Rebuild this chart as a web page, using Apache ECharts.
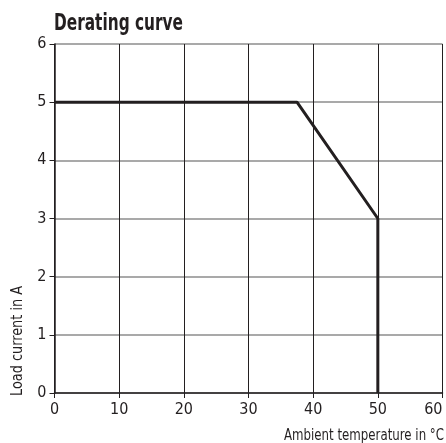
<!DOCTYPE html>
<html><head><meta charset="utf-8">
<script src="https://cdn.jsdelivr.net/npm/echarts@6/dist/echarts.min.js"></script>
<style>html,body{margin:0;padding:0;background:#fff;overflow:hidden}#c{width:446px;height:443px}</style>
</head><body><div id="c"></div>
<script>
const titleText = "Derating curve";
const xName = "Ambient temperature in °C";
const yName = "Load current in A";
const temperature = [0, 37.5, 50, 50];
const current = [5, 5, 3, 0];
const xTicks = [0, 10, 20, 30, 40, 50, 60];
const yTicks = [0, 1, 2, 3, 4, 5, 6];

const FONT = "'Liberation Sans Narrow', 'DejaVu Sans Condensed', sans-serif";
const ctx = document.createElement('canvas').getContext('2d');
function fitScale(text, font, target) { ctx.font = font; return target / ctx.measureText(text).width; }
const titleFont = 'bold 23px ' + FONT;
const nameFont = '16px ' + FONT;
const yNameFont = '15px ' + FONT;

const chart = echarts.init(document.getElementById('c'), null, {renderer: 'canvas'});
chart.setOption({
  animation: false,
  grid: {left: 54.5, right: 3.5, top: 44, bottom: 50, containLabel: false, outerBoundsMode: 'none'},
  xAxis: {type: 'value', min: xTicks[0], max: xTicks[xTicks.length-1], interval: 10,
    axisLine: {show: true, lineStyle: {color: '#231f20', width: 1.5}},
    axisTick: {show: true, length: 5, lineStyle: {color: '#231f20'}},
    axisLabel: {fontFamily: FONT, fontSize: 16, color: '#231f20', margin: 9, alignMaxLabel: 'right'},
    splitLine: {show: true, lineStyle: {color: '#231f20', width: 1}}},
  yAxis: {type: 'value', min: yTicks[0], max: yTicks[yTicks.length-1], interval: 1,
    axisLine: {show: true, lineStyle: {color: '#231f20', width: 1.5}},
    axisTick: {show: true, length: 5, lineStyle: {color: '#231f20'}},
    axisLabel: {fontFamily: FONT, fontSize: 16, color: '#231f20', margin: 8},
    splitLine: {show: true, lineStyle: {color: '#8c8c8c', width: 1.5}}},
  graphic: [
    {type: 'text', x: 54, y: 13, scaleX: fitScale(titleText, titleFont, 129),
      style: {text: titleText, font: titleFont, fill: '#231f20', textAlign: 'left', textVerticalAlign: 'top'}},
    {type: 'text', x: 444, y: 428, scaleX: fitScale(xName, nameFont, 160),
      style: {text: xName, font: nameFont, fill: '#231f20', textAlign: 'right', textVerticalAlign: 'top'}},
    {type: 'text', x: 11, y: 396, rotation: Math.PI/2, scaleX: fitScale(yName, yNameFont, 110),
      style: {text: yName, font: yNameFont, fill: '#231f20', textAlign: 'left', textVerticalAlign: 'top'}}
  ],
  series: [{type: 'line', data: temperature.map((t, i) => [t, current[i]]),
    symbol: 'none', lineStyle: {color: '#231f20', width: 3}}]
});
</script></body></html>
